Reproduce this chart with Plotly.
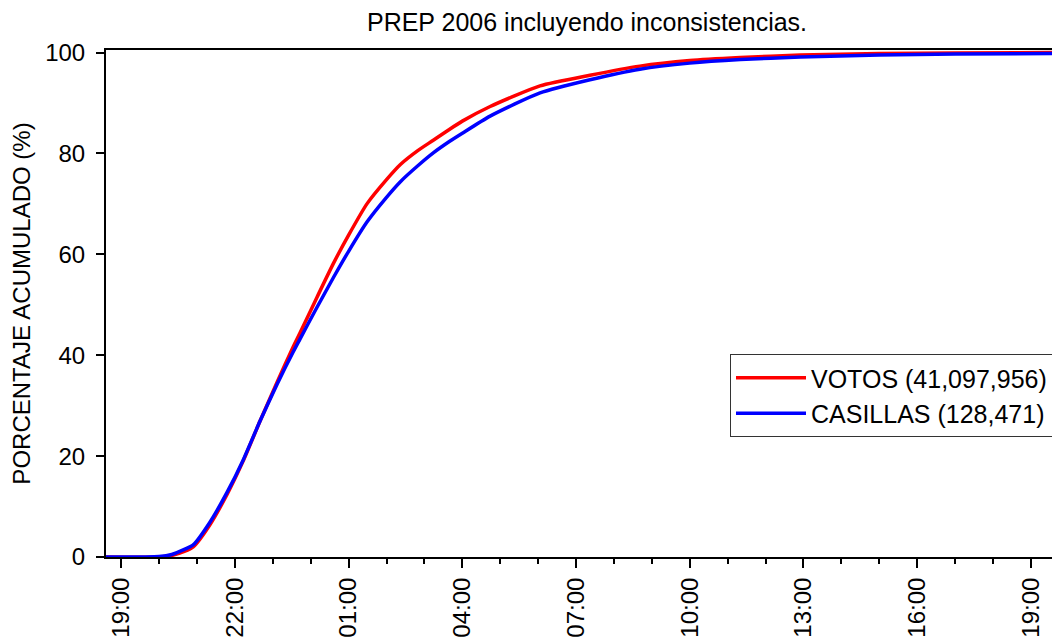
import plotly.graph_objects as go

# Time stamps (election night 2 Jul 2006 -> 3 Jul 2006)
times = [
    "2006-07-02 18:36", "2006-07-02 20:00", "2006-07-02 20:20", "2006-07-02 20:40",
    "2006-07-02 20:54", "2006-07-02 21:20", "2006-07-02 21:48", "2006-07-02 22:13",
    "2006-07-02 22:40", "2006-07-02 23:07", "2006-07-02 23:32", "2006-07-02 23:43",
    "2006-07-03 00:10", "2006-07-03 00:36", "2006-07-03 01:00", "2006-07-03 01:29",
    "2006-07-03 02:00", "2006-07-03 02:22", "2006-07-03 02:50", "2006-07-03 03:14",
    "2006-07-03 03:40", "2006-07-03 04:00", "2006-07-03 04:44", "2006-07-03 06:03",
    "2006-07-03 07:22", "2006-07-03 08:41", "2006-07-03 10:00", "2006-07-03 11:20",
    "2006-07-03 12:55", "2006-07-03 15:00", "2006-07-03 17:00", "2006-07-03 19:46",
]

# Cumulative percentage of votes
votos = [
    0.0, 0.0, 0.3, 1.1,
    2.0, 6.3, 12.5, 19.0,
    27.0, 34.7, 41.6, 44.4,
    51.5, 58.2, 63.8, 70.0,
    74.8, 77.8, 80.6, 82.6,
    84.8, 86.4, 89.3, 93.4,
    95.5, 97.3, 98.4, 99.0,
    99.5, 99.8, 99.9, 100.0,
]

# Cumulative percentage of polling stations (casillas)
casillas = [
    0.0, 0.1, 0.5, 1.5,
    2.4, 6.8, 12.9, 19.2,
    27.0, 34.3, 40.6, 43.2,
    49.5, 55.4, 60.6, 66.4,
    71.3, 74.4, 77.6, 80.1,
    82.4, 84.0, 87.4, 92.0,
    94.6, 96.7, 97.9, 98.6,
    99.1, 99.5, 99.7, 99.8,
]

series_names = ["VOTOS (41,097,956)", "CASILLAS (128,471)"]
series_colors = ["#ff0000", "#0000ff"]

x_range = ["2006-07-02 18:36", "2006-07-03 19:46"]
y_ticks = [0, 20, 40, 60, 80, 100]

FONT = "Liberation Sans, Arial, sans-serif"

# page body has an 8px margin, so the figure is sized/offset to compensate
W, H = 1052, 635

fig = go.Figure()
for name, vals, col in zip(series_names, [votos, casillas], series_colors):
    fig.add_trace(go.Scatter(
        x=times, y=vals, mode="lines", name=name,
        line=dict(color=col, width=3.5, shape="spline", smoothing=0.6),
    ))

fig.update_layout(
    width=W, height=H,
    margin=dict(l=98, r=0, t=42, b=86, autoexpand=False),
    paper_bgcolor="white", plot_bgcolor="white",
    font=dict(family=FONT, size=24, color="black"),
    title=dict(
        text="PREP 2006 incluyendo inconsistencias.",
        x=579 / W, xref="container", xanchor="center",
        y=1 - 14 / H, yref="container", yanchor="middle",
        font=dict(family=FONT, size=25, color="black"),
    ),
    showlegend=True,
    legend=dict(
        x=(730 - 106) / 954, xanchor="left",
        y=(557 - 354) / 507, yanchor="top",
        bgcolor="white", bordercolor="#333333", borderwidth=1,
        font=dict(family=FONT, size=25, color="black"),
        itemwidth=70,
        tracegroupgap=0,
    ),
)

fig.update_xaxes(
    type="date",
    range=x_range,
    automargin=False,
    showline=True, linecolor="black", linewidth=2, mirror=True,
    showgrid=False, zeroline=False,
    ticks="outside", ticklen=9, tickwidth=2, tickcolor="black",
    tick0="2006-07-02 19:00", dtick=3 * 3600 * 1000,
    tickformat="%H:%M", tickangle=-90,
    tickfont=dict(family=FONT, size=24, color="black"),
    minor=dict(ticks="outside", ticklen=5, tickwidth=2, tickcolor="black",
               dtick=3600 * 1000, tick0="2006-07-02 19:00", showgrid=False),
)

fig.update_yaxes(
    range=[0, 100.5],
    tickvals=y_ticks,
    automargin=False,
    showline=True, linecolor="black", linewidth=2, mirror=False,
    showgrid=False, zeroline=False,
    ticks="outside", ticklen=8, tickwidth=2, tickcolor="black",
    ticklabelstandoff=6,
    tickfont=dict(family=FONT, size=24, color="black"),
    title=dict(text="PORCENTAJE ACUMULADO (%)",
               font=dict(family=FONT, size=24, color="black")),
)

fig.write_html("out.html")
